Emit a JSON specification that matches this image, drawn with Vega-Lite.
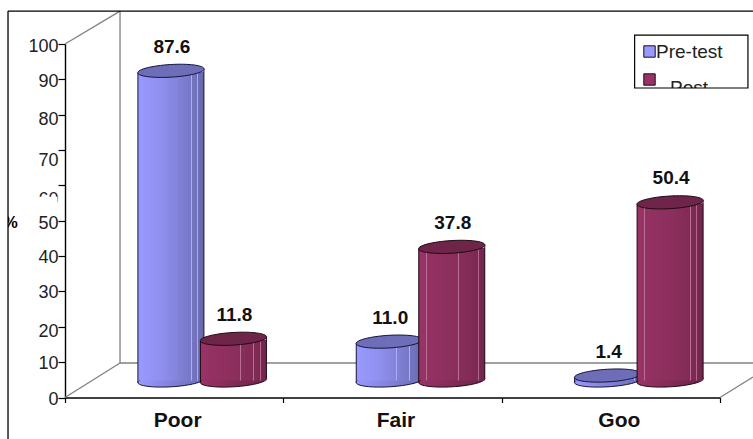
{
  "$schema": "https://vega.github.io/schema/vega-lite/v6.json",
  "width": 655,
  "height": 353.5,
  "padding": {"left": 65, "top": 44, "right": 33, "bottom": 41.5},
  "autosize": {"type": "none"},
  "background": "#ffffff",
  "config": {"view": {"stroke": null}, "font": "Liberation Sans"},
  "data": {"values": [
    {"level": "Poor", "test": "Pre-test", "percent": 87.6},
    {"level": "Poor", "test": "Post", "percent": 11.8},
    {"level": "Fair", "test": "Pre-test", "percent": 11.0},
    {"level": "Fair", "test": "Post", "percent": 37.8},
    {"level": "Goo", "test": "Pre-test", "percent": 1.4},
    {"level": "Goo", "test": "Post", "percent": 50.4}
  ]},
  "resolve": {"scale": {"x": "independent"}},
  "layer": [
    {
      "data": {"values": [{"frame": 1}]},
      "layer": [
        {"mark": {"type": "rule", "color": "#808080", "strokeWidth": 1.3},
         "encoding": {
           "x": {"datum": 0, "type": "quantitative", "scale": {"domain": [0, 3]}, "axis": null},
           "x2": {"datum": 0.252},
           "y": {"datum": 100, "type": "quantitative", "scale": {"domain": [0, 100], "nice": false}},
           "y2": {"datum": 109.3}
         }},
        {"mark": {"type": "rule", "color": "#808080", "strokeWidth": 1.3},
         "encoding": {"x": {"datum": 0.252, "type": "quantitative"}, "y": {"datum": 109.3, "type": "quantitative"}, "y2": {"datum": 9.76}}},
        {"mark": {"type": "rule", "color": "#808080", "strokeWidth": 1.3},
         "encoding": {"x": {"datum": 0, "type": "quantitative"}, "x2": {"datum": 0.252}, "y": {"datum": 0, "type": "quantitative"}, "y2": {"datum": 9.76}}},
        {"mark": {"type": "rule", "color": "#808080", "strokeWidth": 1.3},
         "encoding": {"x": {"datum": 0.252, "type": "quantitative"}, "x2": {"datum": 3.151}, "y": {"datum": 9.76, "type": "quantitative"}}},
        {"mark": {"type": "rule", "color": "#808080", "strokeWidth": 1.3},
         "encoding": {"x": {"datum": 3, "type": "quantitative"}, "x2": {"datum": 3.151}, "y": {"datum": 0, "type": "quantitative"}, "y2": {"datum": 5.8}}},
        {"mark": {"type": "rect", "fill": "#ffffff"},
         "encoding": {"x": {"datum": -0.137, "type": "quantitative"}, "x2": {"datum": -0.034}, "y": {"datum": 56.8, "type": "quantitative"}, "y2": {"datum": 53.6}}},
        {"mark": {"type": "rect", "fill": "#ffffff"},
         "encoding": {"x": {"datum": -0.3, "type": "quantitative"}, "x2": {"datum": -0.261}, "y": {"datum": 112, "type": "quantitative"}, "y2": {"datum": -12}}},
        {"mark": {"type": "rule", "color": "#000000", "strokeWidth": 1.3},
         "encoding": {"x": {"datum": -0.261, "type": "quantitative"}, "x2": {"datum": 3.151}, "y": {"datum": 109.3, "type": "quantitative"}}},
        {"mark": {"type": "rule", "color": "#000000", "strokeWidth": 1.3},
         "encoding": {"x": {"datum": -0.261, "type": "quantitative"}, "y": {"datum": 109.3, "type": "quantitative"}, "y2": {"datum": -11.8}}},
        {"mark": {"type": "text", "text": "Post", "fontSize": 19, "color": "#222222", "align": "left", "baseline": "middle"},
         "encoding": {"x": {"datum": 2.771, "type": "quantitative"}, "y": {"datum": 87.6, "type": "quantitative"}}},
        {"mark": {"type": "rect", "fill": "#ffffff"},
         "encoding": {"x": {"datum": 2.62, "type": "quantitative"}, "x2": {"datum": 3.12}, "y": {"datum": 87.55, "type": "quantitative"}, "y2": {"datum": 80}}},
        {"mark": {"type": "rect", "fill": null, "stroke": "#000000", "strokeWidth": 1.2},
         "encoding": {"x": {"datum": 2.609, "type": "quantitative"}, "x2": {"datum": 3.128}, "y": {"datum": 102.5, "type": "quantitative"}, "y2": {"datum": 87.55}}}
      ]
    },
    {
      "encoding": {
        "x": {"field": "level", "type": "nominal", "sort": ["Poor", "Fair", "Goo"],
          "scale": {"paddingInner": 0, "paddingOuter": 0},
          "axis": {
            "orient": "bottom", "title": null, "tickBand": "extent", "labelAngle": 0, "labelFontSize": 21, "labelFontWeight": "bold", "labelColor": "#111111",
            "labelPadding": 7, "tickSize": 5, "tickColor": "#000000", "tickWidth": 1.2, "domainColor": "#000000", "domainWidth": 1.4,
            "labelOffset": {"expr": "datum.value == 'Goo' ? 8 : 3"}
          }},
        "xOffset": {"field": "test", "type": "nominal", "sort": ["Pre-test", "Post"], "scale": {"domain": ["Pre-test", "Post"], "range": [74.67, 199.67]}},
        "y": {"field": "percent", "type": "quantitative",
          "axis": {
            "values": [0, 10, 20, 30, 40, 50, 60, 70, 80, 90, 100], "tickCount": 11,
            "title": "%", "titleAngle": 0, "titleX": -55, "titleY": 178, "titleFontSize": 16, "titleFontWeight": "bold",
            "titleAlign": "center", "titleBaseline": "middle", "titleColor": "#000000",
            "grid": false, "domainColor": "#000000", "domainWidth": 1.4, "tickColor": "#000000", "tickWidth": 1.2, "tickSize": 7,
            "labelFontSize": 18, "labelColor": "#222222", "labelPadding": 0, "labelOverlap": false,
            "labelOffset": {"expr": "datum.value == 100 ? 2 : datum.value == 90 ? 2.5 : datum.value == 80 ? 5 : datum.value == 70 ? 10 : datum.value == 60 ? 14 : datum.value == 50 ? 3 : datum.value == 20 ? 5 : 1.5"}
          }}
      },
      "layer": [
        {
          "transform": [{"filter": "datum.test == 'Pre-test'"}],
          "layer": [
            {"mark": {"type": "point", "shape": "M-1,0.06 A1,0.19 -3.4 1 1 1,-0.06 A1,0.19 -3.4 1 1 -1,0.06 Z", "size": 4400, "filled": true, "opacity": 1, "stroke": "#14143c", "strokeWidth": 1, "yOffset": -17},
             "encoding": {"y": {"datum": 0, "type": "quantitative"},
               "color": {"field": "test", "type": "nominal", "scale": {"domain": ["Pre-test", "Post"], "range": ["#9999ff", "#993366"]},
                 "legend": {"title": null, "orient": "none", "legendX": 575, "legendY": -2, "padding": 0, "symbolType": "square", "symbolSize": 130, "symbolStrokeColor": "#000000", "symbolStrokeWidth": 1, "symbolOpacity": 1, "labelFontSize": 19, "labelColor": "#222222", "labelOffset": -3, "rowPadding": 8, "labelLimit": 200,
                   "labelExpr": "datum.label == 'Post' ? ' ' : datum.label"}}}},
            {"mark": {"type": "point", "shape": "M-1,0.06 A1,0.19 -3.4 1 1 1,-0.06 A1,0.19 -3.4 1 1 -1,0.06 Z", "size": 4400, "filled": true, "opacity": 1, "yOffset": -17,
               "fill": {"gradient": "linear", "x1": 0, "x2": 1, "y1": 0, "y2": 0, "stops": [{"offset": 0, "color": "rgba(0,0,0,0)"}, {"offset": 1, "color": "rgba(0,0,0,0.3)"}]}},
             "encoding": {"y": {"datum": 0, "type": "quantitative"}}},
            {"mark": {"type": "bar", "width": 66, "yOffset": -16, "y2Offset": -17, "cornerRadius": 0},
             "encoding": {"y2": {"datum": 0}, "color": {"field": "test", "type": "nominal"}}},
            {"mark": {"type": "bar", "width": 66, "yOffset": -16, "y2Offset": -17,
               "fill": {"gradient": "linear", "x1": 0, "x2": 1, "y1": 0, "y2": 0, "stops": [
                 {"offset": 0, "color": "rgba(0,0,0,0)"}, {"offset": 0.33, "color": "rgba(0,0,0,0.06)"},
                 {"offset": 0.6, "color": "rgba(0,0,0,0.14)"}, {"offset": 0.6, "color": "rgba(255,255,255,0.18)"}, {"offset": 0.612, "color": "rgba(255,255,255,0.18)"}, {"offset": 0.612, "color": "rgba(0,0,0,0.16)"},
                 {"offset": 0.8, "color": "rgba(0,0,0,0.22)"}, {"offset": 0.8, "color": "rgba(255,255,255,0.18)"}, {"offset": 0.812, "color": "rgba(255,255,255,0.18)"}, {"offset": 0.812, "color": "rgba(0,0,0,0.24)"},
                 {"offset": 0.9, "color": "rgba(0,0,0,0.27)"}, {"offset": 0.9, "color": "rgba(255,255,255,0.15)"}, {"offset": 0.912, "color": "rgba(255,255,255,0.15)"}, {"offset": 0.912, "color": "rgba(0,0,0,0.28)"},
                 {"offset": 1, "color": "rgba(0,0,0,0.33)"}]}},
             "encoding": {"y2": {"datum": 0}}},
            {"mark": {"type": "rule", "color": "#14143c", "strokeWidth": 1, "xOffset": -36.25, "yOffset": -15, "y2Offset": -15},
             "encoding": {"xOffset": null, "y2": {"datum": 0}}},
            {"mark": {"type": "rule", "color": "#14143c", "strokeWidth": 1, "xOffset": 29.75, "yOffset": -19, "y2Offset": -19},
             "encoding": {"xOffset": null, "y2": {"datum": 0}}},
            {"mark": {"type": "point", "shape": "M-1,0.06 A1,0.19 -3.4 1 1 1,-0.06 A1,0.19 -3.4 1 1 -1,0.06 Z", "size": 4400, "filled": true, "opacity": 1, "fill": "#6d6db8", "stroke": "#14143c", "strokeWidth": 1, "yOffset": -17}}
          ]
        },
        {
          "transform": [{"filter": "datum.test == 'Post'"}],
          "layer": [
            {"mark": {"type": "point", "shape": "M-1,0.06 A1,0.19 -3.4 1 1 1,-0.06 A1,0.19 -3.4 1 1 -1,0.06 Z", "size": 4400, "filled": true, "opacity": 1, "stroke": "#1e0a14", "strokeWidth": 1, "yOffset": -17},
             "encoding": {"y": {"datum": 0, "type": "quantitative"}, "color": {"field": "test", "type": "nominal"}}},
            {"mark": {"type": "point", "shape": "M-1,0.06 A1,0.19 -3.4 1 1 1,-0.06 A1,0.19 -3.4 1 1 -1,0.06 Z", "size": 4400, "filled": true, "opacity": 1, "yOffset": -17,
               "fill": {"gradient": "linear", "x1": 0, "x2": 1, "y1": 0, "y2": 0, "stops": [{"offset": 0, "color": "rgba(0,0,0,0)"}, {"offset": 1, "color": "rgba(0,0,0,0.3)"}]}},
             "encoding": {"y": {"datum": 0, "type": "quantitative"}}},
            {"mark": {"type": "bar", "width": 66, "yOffset": -16, "y2Offset": -17, "cornerRadius": 0},
             "encoding": {"y2": {"datum": 0}, "color": {"field": "test", "type": "nominal"}}},
            {"mark": {"type": "bar", "width": 66, "yOffset": -16, "y2Offset": -17,
               "fill": {"gradient": "linear", "x1": 0, "x2": 1, "y1": 0, "y2": 0, "stops": [
                 {"offset": 0, "color": "rgba(0,0,0,0)"}, {"offset": 0.11, "color": "rgba(0,0,0,0.02)"}, {"offset": 0.11, "color": "rgba(255,255,255,0.3)"}, {"offset": 0.122, "color": "rgba(255,255,255,0.3)"}, {"offset": 0.122, "color": "rgba(0,0,0,0.03)"},
                 {"offset": 0.6, "color": "rgba(0,0,0,0.1)"}, {"offset": 0.6, "color": "rgba(255,255,255,0.3)"}, {"offset": 0.612, "color": "rgba(255,255,255,0.3)"}, {"offset": 0.612, "color": "rgba(0,0,0,0.11)"},
                 {"offset": 0.8, "color": "rgba(0,0,0,0.16)"}, {"offset": 0.8, "color": "rgba(255,255,255,0.3)"}, {"offset": 0.812, "color": "rgba(255,255,255,0.3)"}, {"offset": 0.812, "color": "rgba(0,0,0,0.17)"},
                 {"offset": 0.9, "color": "rgba(0,0,0,0.2)"}, {"offset": 0.9, "color": "rgba(255,255,255,0.25)"}, {"offset": 0.912, "color": "rgba(255,255,255,0.25)"}, {"offset": 0.912, "color": "rgba(0,0,0,0.21)"},
                 {"offset": 1, "color": "rgba(0,0,0,0.28)"}]}},
             "encoding": {"y2": {"datum": 0}}},
            {"mark": {"type": "rule", "color": "#1e0a14", "strokeWidth": 1, "xOffset": 26.25, "yOffset": -15, "y2Offset": -15},
             "encoding": {"xOffset": null, "y2": {"datum": 0}}},
            {"mark": {"type": "rule", "color": "#1e0a14", "strokeWidth": 1, "xOffset": 92.25, "yOffset": -19, "y2Offset": -19},
             "encoding": {"xOffset": null, "y2": {"datum": 0}}},
            {"mark": {"type": "point", "shape": "M-1,0.06 A1,0.19 -3.4 1 1 1,-0.06 A1,0.19 -3.4 1 1 -1,0.06 Z", "size": 4400, "filled": true, "opacity": 1, "fill": "#6f2549", "stroke": "#1e0a14", "strokeWidth": 1, "yOffset": -17}}
          ]
        },
        {"mark": {"type": "text", "fontSize": 19, "fontWeight": "bold", "color": "#111111", "dx": 1, "yOffset": -41, "baseline": "middle"},
         "encoding": {"text": {"field": "percent", "type": "quantitative", "format": ".1f"}}}
      ]
    }
  ]
}
